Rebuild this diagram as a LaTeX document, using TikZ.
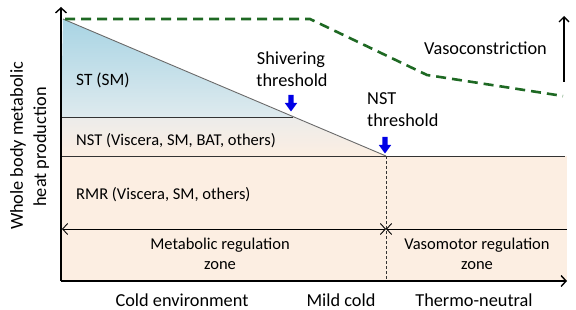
\documentclass[tikz,border=0pt]{standalone}
\usepackage{fontspec}
\setmainfont{Carlito}
\usetikzlibrary{arrows.meta}
\definecolor{beige}{RGB}{252,238,226}
\definecolor{lblue}{RGB}{168,212,228}
\definecolor{pblue}{RGB}{222,234,238}
\definecolor{nstgray}{RGB}{236,236,234}
\definecolor{dgreen}{RGB}{30,105,35}
\definecolor{gline}{RGB}{105,105,105}
\begin{document}
\begin{tikzpicture}[x=1pt,y=-1pt,
  small/.style={font=\fontsize{16.5}{20}\selectfont, inner sep=0pt},
  large/.style={font=\fontsize{18.3}{22}\selectfont, inner sep=0pt},
  axisline/.style={line width=1.6pt, -{Straight Barb[length=5pt,width=11pt,line width=1.4pt]}},
  zonearrow/.style={line width=0.9pt},
  barbtip/.tip={Straight Barb[length=5pt,width=11pt,line width=0.9pt]},
  bluearrow/.pic={\fill[blue!90!black] (-2.6,0) -- (2.6,0) -- (2.6,8) -- (6.2,8) -- (0,16.5) -- (-6.2,8) -- (-2.6,8) -- cycle;}
]
\useasboundingbox (0,0) rectangle (576,310);
% fills
\fill[beige] (61,156) rectangle (567,281);
\shade[top color=nstgray, bottom color=beige] (61,117) -- (293,117) -- (386,156) -- (61,156) -- cycle;
\shade[top color=lblue, bottom color=pblue] (63,19) -- (293,117) -- (61,117) -- cycle;
% lines
\draw[gline, line width=0.9pt] (63,19) -- (386,156);
\draw[black!80, line width=0.9pt] (61,117) -- (293,117);
\draw[black!80, line width=0.9pt] (61,156) -- (565,156);
\draw[black!80, line width=0.8pt, dash pattern=on 3pt off 2pt] (386,156) -- (386,281);
% green dashed curve
\draw[dgreen, line width=2.6pt, dash pattern=on 10pt off 6pt] (65,19) -- (310,19) -- (427,75) -- (563,96);
% axes
\coordinate (O) at (61,281);
\coordinate (Ytop) at (61,7);
\coordinate (Xend) at (567,281);
\draw[axisline] (O) -- (Ytop);
\draw[axisline] (O) -- (Xend);
% zone arrows
\coordinate (zl) at (62,229);
\coordinate (zm) at (386,229);
\coordinate (zr) at (567,229);
\draw[zonearrow, {barbtip}-{barbtip}] (zl) -- (zm);
\draw[zonearrow, {barbtip}-] (zm) -- (zr);
% vasoconstriction arrow
\coordinate (va1) at (564,82);
\coordinate (va2) at (564,16);
\draw[line width=1.4pt, -{Straight Barb[length=5pt,width=10pt,line width=1.3pt]}] (va1) -- (va2);
% blue threshold arrows
\pic at (291,95) {bluearrow};
\pic at (385,137) {bluearrow};
% texts
\node[small, anchor=base west] (st) at (76,86) {\fontsize{17.3}{20}\selectfont ST (SM)};
\node[small, anchor=base west] (nst) at (76,146) {NST (Viscera, SM, BAT, others)};
\node[small, anchor=base west] (rmr) at (76,200) {RMR (Viscera, SM, others)};
\node[large, anchor=base] (shiv1) at (291,65) {Shivering};
\node[large, anchor=base] (shiv2) at (292,87) {threshold};
\node[large, anchor=base west] (nstt1) at (367,105) {NST};
\node[large, anchor=base west] (nstt2) at (367,127) {threshold};
\node[large, anchor=base west] (vaso) at (424,55) {Vasoconstriction};
\node[small, anchor=base] (mr1) at (220,249) {Metabolic regulation};
\node[small, anchor=base] (mr2) at (220,269) {zone};
\node[small, anchor=base] (vr1) at (477,249) {Vasomotor regulation};
\node[small, anchor=base] (vr2) at (477,269) {zone};
\node[large, anchor=base] (cold) at (182,306) {Cold environment};
\node[large, anchor=base] (mild) at (341,306) {Mild cold};
\node[large, anchor=base] (thermo) at (474,306) {Thermo-neutral};
\node[large, anchor=base, rotate=90] (yl1) at (23,146) {Whole body metabolic};
\node[large, anchor=base, rotate=90] (yl2) at (46,147) {heat production};
\end{tikzpicture}
\end{document}
